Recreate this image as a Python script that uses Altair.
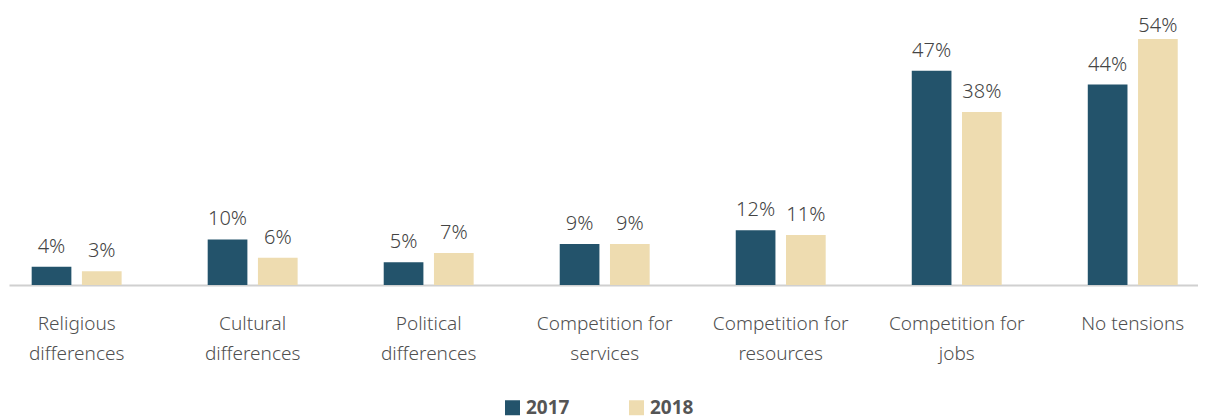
import altair as alt
import pandas as pd

categories = ["Religious differences", "Cultural differences", "Political differences",
              "Competition for services", "Competition for resources",
              "Competition for jobs", "No tensions"]
years = ["2017", "2018"]
values_2017 = [4, 10, 5, 9, 12, 47, 44]
values_2018 = [3, 6, 7, 9, 11, 38, 54]

rows = []
for c, a, b in zip(categories, values_2017, values_2018):
    rows.append({"category": c, "year": "2017", "value": a})
    rows.append({"category": c, "year": "2018", "value": b})
df = pd.DataFrame(rows)

FONT = "Noto Sans"

label_expr = ("datum.label == 'No tensions' ? datum.label : "
              "[substring(datum.label, 0, lastindexof(datum.label, ' ')), "
              "substring(datum.label, lastindexof(datum.label, ' ') + 1)]")

x = alt.X("category:N", sort=categories, title=None,
          scale=alt.Scale(paddingInner=0.489, paddingOuter=0.122, align=0.528),
          axis=alt.Axis(labelExpr=label_expr, labelAngle=0, ticks=False,
                        domainColor="#d0d0d0", domainWidth=2, labelPadding=29,
                        labelFont=FONT, labelFontSize=19, labelFontWeight=300,
                        labelColor="#505050",
                        labelLineHeight=30, labelBaseline="top", labelLimit=300))
xo = alt.XOffset("year:N", sort=years, scale=alt.Scale(paddingInner=0.21))
yscale = alt.Scale(domain=[0, 60.8], nice=False)
y = alt.Y("value:Q", axis=None, scale=yscale)

color = alt.Color("year:N", sort=years, title=None,
                  scale=alt.Scale(domain=years, range=["#23536b", "#eedcb0"]),
                  legend=alt.Legend(orient="none", legendX=494, legendY=390,
                                    direction="horizontal", symbolType="square",
                                    symbolSize=225, symbolStrokeWidth=0,
                                    labelFont=FONT, labelFontSize=19,
                                    labelFontWeight="bold", labelColor="#555555",
                                    labelOffset=4, columnPadding=57, padding=0))

bars = alt.Chart(df).mark_bar().encode(x=x, xOffset=xo, y=y, color=color)

# labels above bars; the tallest label is kept inside the chart's top edge
labels = alt.Chart(df).transform_calculate(
    label="datum.value + '%'",
    ly="min(datum.value, 52.5)",
).mark_text(baseline="alphabetic", dy=-14, font=FONT, fontSize=20, fontWeight=300,
            color="#444444").encode(
    x=x, xOffset=xo, y=alt.Y("ly:Q", axis=None, scale=yscale), text="label:N"
)

chart = (bars + labels).properties(
    width=1189, height=277,
    padding={"left": 1, "top": 0, "right": 0, "bottom": 0},
).configure_view(stroke=None)

chart.save("out.html", embed_options={"renderer": "svg", "actions": False})
